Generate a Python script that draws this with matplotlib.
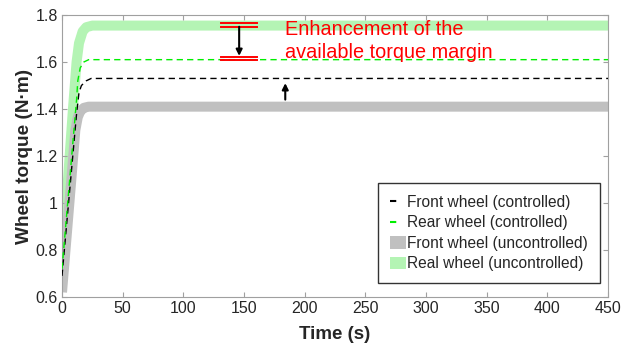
import matplotlib
matplotlib.use("Agg")
import matplotlib.pyplot as plt
from matplotlib.lines import Line2D
from matplotlib.patches import Patch
from matplotlib.ticker import FuncFormatter

# Wheel torque responses (time in s, torque in N·m)
t_front_unc = [0, 4, 8, 11, 13, 15, 18, 22, 450]
front_unc = [0.62, 0.87, 1.12, 1.31, 1.365, 1.39, 1.405, 1.41, 1.41]

t_rear_unc = [0, 3, 6, 9, 12, 14, 17, 20, 25, 450]
rear_unc = [0.72, 0.95, 1.18, 1.40, 1.60, 1.68, 1.73, 1.748, 1.755, 1.755]

t_front_ctl = [0, 4, 8, 12, 14, 16, 20, 24, 450]
front_ctl = [0.69, 0.92, 1.15, 1.38, 1.47, 1.50, 1.52, 1.53, 1.53]

t_rear_ctl = [0, 4, 8, 12, 13, 15, 18, 22, 450]
rear_ctl = [0.72, 0.96, 1.20, 1.44, 1.52, 1.575, 1.60, 1.61, 1.61]

labels = ["Front wheel (controlled)", "Rear wheel (controlled)",
          "Front wheel (uncontrolled)", "Real wheel (uncontrolled)"]

# Annotation positions (data units)
margin_t = 146
margin_top = 1.76
margin_bottom = 1.618
gain_t = 184
gain_from, gain_to = 1.44, 1.51
note_lines = ["Enhancement of the", "available torque margin"]
note_t = 183.5
note_y = [1.715, 1.617]

x_ticks = [0, 50, 100, 150, 200, 250, 300, 350, 400, 450]
y_ticks = [0.6, 0.8, 1.0, 1.2, 1.4, 1.6, 1.8]

GRAY = "#c0c0c0"
LGREEN = "#b4f4b4"
TXT = "#262626"

plt.rcParams["font.family"] = ["Liberation Sans", "DejaVu Sans"]

fig = plt.figure(figsize=(6.36, 3.49), dpi=100)
ax = fig.add_axes([0.0975, 0.149, 0.8585, 0.808])

ax.plot(t_front_unc, front_unc, color=GRAY, lw=7.2, solid_capstyle="butt",
        solid_joinstyle="round", zorder=2)
ax.plot(t_rear_unc, rear_unc, color=LGREEN, lw=7.2, solid_capstyle="butt",
        solid_joinstyle="round", zorder=1)
ax.plot(t_front_ctl, front_ctl, color="black", lw=1.0, dashes=(4.5, 3), zorder=3)
ax.plot(t_rear_ctl, rear_ctl, color="#00ee00", lw=1.0, dashes=(4.5, 3), zorder=3)

# Double red bars marking the margin
for y0 in (margin_top, margin_bottom):
    for dy in (0.007, -0.007):
        ax.plot([margin_t - 15, margin_t + 15], [y0 + dy - 0.003, y0 + dy - 0.003],
                color="red", lw=1.4, zorder=4)
ax.annotate("", xy=(margin_t, margin_bottom + 0.008), xytext=(margin_t, margin_top - 0.01),
            arrowprops=dict(arrowstyle="-|>", color="black", lw=1.5,
                            mutation_scale=9, shrinkA=0, shrinkB=0), zorder=5)
ax.annotate("", xy=(gain_t, gain_to), xytext=(gain_t, gain_from),
            arrowprops=dict(arrowstyle="-|>", color="black", lw=1.5,
                            mutation_scale=9, shrinkA=0, shrinkB=0), zorder=5)
for line, y in zip(note_lines, note_y):
    ax.text(note_t, y, line, color="red", fontsize=14.3, va="baseline", ha="left",
            zorder=6)

ax.set_xlim(0, 450)
ax.set_ylim(0.6, 1.8)
ax.set_xticks(x_ticks)
ax.set_yticks(y_ticks)
ax.yaxis.set_major_formatter(FuncFormatter(lambda v, p: f"{v:g}"))
ax.tick_params(direction="in", length=3.5, width=0.8, color="#a0a0a0",
               top=True, right=True, labelsize=11.5, labelcolor=TXT, pad=3)
for s in ax.spines.values():
    s.set_color("#a0a0a0")
    s.set_linewidth(0.8)

ax.set_xlabel("Time (s)", fontsize=13.5, fontweight="bold", color=TXT, labelpad=7)
ax.set_ylabel("Wheel torque (N·m)", fontsize=13.7, fontweight="bold", color=TXT,
              labelpad=2)

handles = [
    Line2D([], [], color="black", lw=1.5, linestyle=(0, (3, 20))),
    Line2D([], [], color="#00ee00", lw=1.5, linestyle=(0, (3, 20))),
    Patch(facecolor=GRAY, edgecolor="none"),
    Patch(facecolor=LGREEN, edgecolor="none"),
]
leg = ax.legend(handles, labels, loc="lower right", bbox_to_anchor=(0.985, 0.05),
                fontsize=11.2, frameon=True, fancybox=False, handlelength=1.05,
                handletextpad=0.08, borderpad=0.75, labelspacing=0.35,
                handleheight=0.85, borderaxespad=0)
leg.get_frame().set_edgecolor("black")
leg.get_frame().set_linewidth(1.0)
for t in leg.get_texts():
    t.set_color(TXT)

fig.savefig("out.png", dpi=100)
